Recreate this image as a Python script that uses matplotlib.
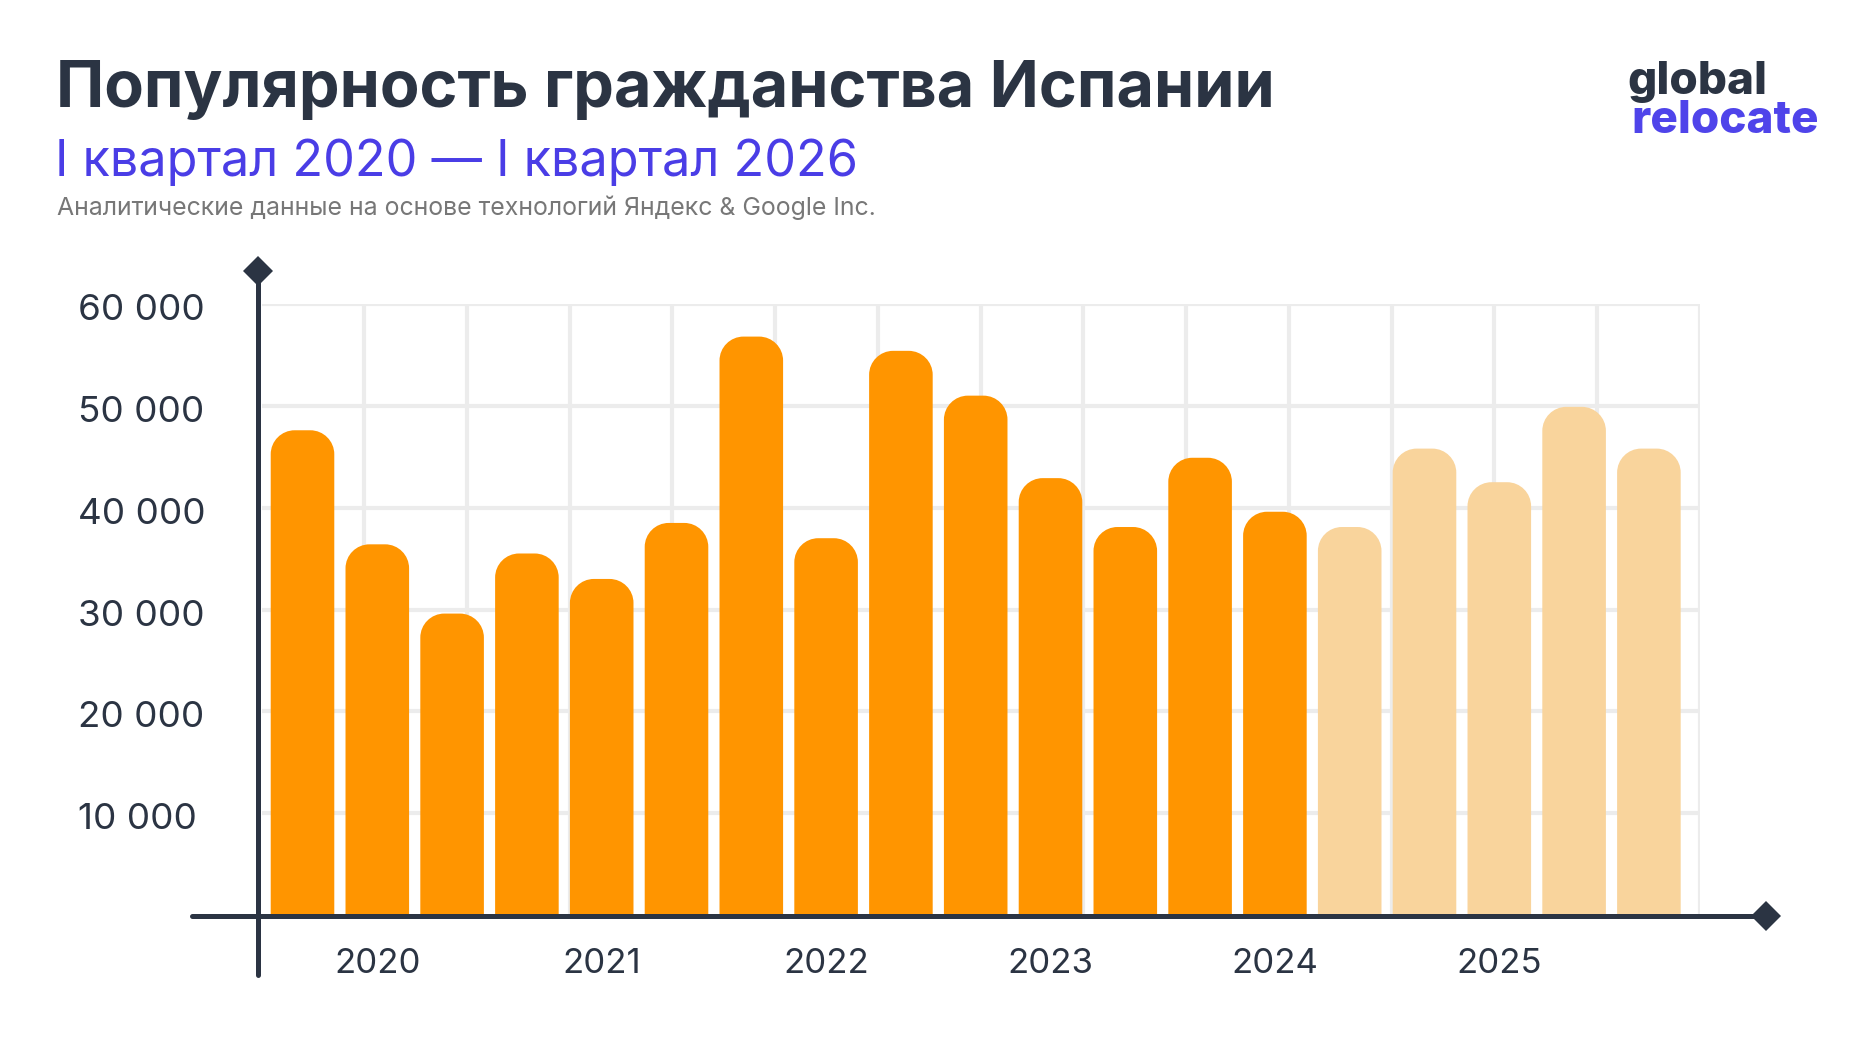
import matplotlib
matplotlib.use("Agg")
import matplotlib.pyplot as plt
import matplotlib.transforms as mtransforms
import numpy as np
from matplotlib.path import Path
from matplotlib.patches import PathPatch
from matplotlib.lines import Line2D

plt.rcParams['font.family'] = ['Inter', 'DejaVu Sans']

# quarterly values, I 2020 ... (last five bars are the lighter ones)
values = [47600, 36400, 29600, 35500, 33000, 38500, 56800, 37000, 55400, 51000,
          42900, 38100, 44900, 39600, 38100, 45800, 42500, 49900, 45800]
n_dark = 14
year_pos = [1, 4, 7, 10, 13, 16]
year_labels = ['2020', '2021', '2022', '2023', '2024', '2025']
y_ticks = [10000, 20000, 30000, 40000, 50000, 60000]
y_labels = ['10 000', '20 000', '30 000', '40 000', '50 000', '60 000']

DARK = '#2b3443'
ORANGE = '#ff9500'
LIGHT = '#f9d49c'
BLUE = '#4a3de6'
GRID = '#ececec'

W, H = 1870, 1043
fig = plt.figure(figsize=(W / 100, H / 100), dpi=100)

# axes box in pixels: y-axis at x=258, grid right edge 1700, zero at y=915, 60 000 at y=304
ax = fig.add_axes([258 / W, 1 - 915 / H, (1700 - 258) / W, (915 - 304) / H])
x = np.arange(len(values))
ax.set_xlim((258 - 302.5) / 74.8, (1700 - 302.5) / 74.8)
ax.set_ylim(0, 60000)
for s in ax.spines.values():
    s.set_visible(False)

# grid: squares of ~102 px
for yv in y_ticks:
    ax.plot([0.003, 1], [yv / 60000] * 2, transform=ax.transAxes, color=GRID,
            lw=3, zorder=0, solid_capstyle='butt')
for xf in 1 - np.arange(14) * 102.77 / 1442:
    ax.plot([xf, xf], [0, 1.003], transform=ax.transAxes, color=GRID,
            lw=3, zorder=0, solid_capstyle='butt')

colors = [ORANGE if i < n_dark else LIGHT for i in range(len(values))]
bars = ax.bar(x, values, width=0.85, color=colors)

# swap rectangles for bars with rounded tops
sx = ax.transData.transform((1, 0))[0] - ax.transData.transform((0, 0))[0]
sy = ax.transData.transform((0, 1))[1] - ax.transData.transform((0, 0))[1]
r_px = 24
k = 0.5523
for rect in bars:
    x0, w, h = rect.get_x(), rect.get_width(), rect.get_height()
    rx, ry = r_px / sx, r_px / sy
    verts = [(x0, 0), (x0, h - ry), (x0, h - ry + k * ry), (x0 + rx - k * rx, h), (x0 + rx, h),
             (x0 + w - rx, h), (x0 + w - rx + k * rx, h), (x0 + w, h - ry + k * ry), (x0 + w, h - ry),
             (x0 + w, 0), (x0, 0)]
    codes = [Path.MOVETO, Path.LINETO, Path.CURVE4, Path.CURVE4, Path.CURVE4, Path.LINETO,
             Path.CURVE4, Path.CURVE4, Path.CURVE4, Path.LINETO, Path.CLOSEPOLY]
    ax.add_patch(PathPatch(Path(verts, codes), facecolor=rect.get_facecolor(),
                           edgecolor='none', zorder=2))
    rect.set_visible(False)

ax.set_yticks(y_ticks)
ax.set_yticklabels(y_labels)
ax.tick_params(axis='y', length=0, pad=(258 - 78) * 0.72, labelsize=26.5, labelcolor=DARK)
shift = mtransforms.ScaledTranslation(0, -0.03, fig.dpi_scale_trans)
for lab in ax.get_yticklabels():
    lab.set_ha('left')
    lab.set_transform(lab.get_transform() + shift)
ax.set_xticks(year_pos)
ax.set_xticklabels(year_labels)
ax.tick_params(axis='x', length=0, pad=24, labelsize=25, labelcolor=DARK)

# axis arrows drawn in figure pixels
def px(xp, yp):
    return xp / W, 1 - yp / H

for (xa, ya), (xb, yb) in [((192, 915.5), (1766, 915.5)), ((258, 975), (258, 271))]:
    (fx0, fy0), (fx1, fy1) = px(xa, ya), px(xb, yb)
    fig.add_artist(Line2D([fx0, fx1], [fy0, fy1], color=DARK, lw=3.6,
                          solid_capstyle='round', zorder=5))
for xd, yd in [(1766, 915.5), (258, 271)]:
    fx, fy = px(xd, yd)
    fig.add_artist(Line2D([fx], [fy], marker='D', markersize=15, color=DARK,
                          markeredgewidth=0, zorder=6))

fig.text(56 / W, 1 - 106.5 / H, 'Популярность гражданства Испании', fontsize=46.6,
         fontweight='bold', color=DARK, va='baseline', ha='left')
fig.text(55 / W, 1 - 176 / H, 'I квартал 2020 — I квартал 2026', fontsize=36.3,
         color=BLUE, va='baseline', ha='left')
fig.text(57 / W, 1 - 215 / H, 'Аналитические данные на основе технологий Яндекс & Google Inc.',
         fontsize=17.9, color='#777777', va='baseline', ha='left')

# logo
fig.text(1627 / W, 1 - 94 / H, 'global', fontsize=33, fontweight='heavy',
         color=DARK, va='baseline', ha='left')
fig.text(1631 / W, 1 - 133 / H, 'relocate', fontsize=33, fontweight='heavy',
         color='#4f44ea', va='baseline', ha='left')

fig.savefig('out.png', dpi=100, facecolor='white')
